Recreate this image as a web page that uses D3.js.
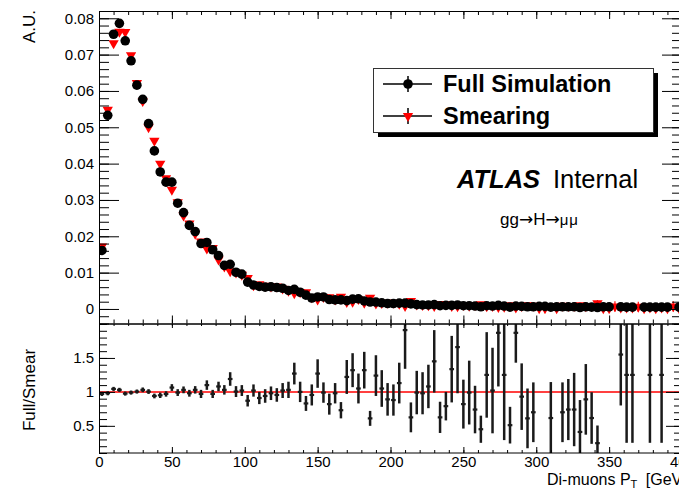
<!DOCTYPE html>
<html>
<head>
<meta charset="utf-8">
<script src="https://cdn.jsdelivr.net/npm/d3@7"></script>
<style>
    body { margin: 0; background: #fff; }
    #chart { width: 679px; height: 490px; overflow: hidden; }
    text { font-family: "Liberation Sans", Arial, Helvetica, sans-serif; fill: #000; }
</style>
</head>
<body>
<div id="chart"></div>
<script>
// di-muon pT histogram, 100 bins of 4 GeV from 0 to 400
const binWidth = 4;
const binLow = d3.range(0, 400, binWidth);

// normalised yields (A.U.), null = empty bin
const fullSim = [
    0.0161, 0.0533, 0.0756, 0.0786, 0.0738, 0.0683, 0.0616, 0.0577, 0.0510, 0.0435,
    0.0377, 0.0349, 0.0349, 0.0291, 0.0265, 0.0230, 0.0213, 0.0180, 0.0183, 0.0163,
    0.0147, 0.0120, 0.0123, 0.0101, 0.0096, 0.0074, 0.0066, 0.0062, 0.0060, 0.0061,
    0.0059, 0.0057, 0.0051, 0.0054, 0.0046, 0.0038, 0.0030, 0.0033, 0.0033, 0.0026,
    0.0025, 0.0025, 0.0023, 0.0027, 0.0028, 0.0022, 0.0019, 0.0019, 0.0017, 0.0015,
    0.0015, 0.0016, 0.0016, 0.0014, 0.0012, 0.0011, 0.0011, 0.0012, 0.0009, 0.0010,
    0.0010, 0.0011, 0.0009, 0.0009, 0.0008, 0.0006, 0.0009, 0.0008, 0.0010, 0.0008,
    0.0005, 0.0008, 0.0007, 0.0006, 0.0006, 0.0007, 0.0007, 0.0005, 0.0006, 0.0006,
    0.0006, 0.0006, 0.0004, 0.0006, 0.0005, 0.0004, 0.0006, 0.0006, null,   0.0006,
    0.0005, 0.0005, null,   0.0005, 0.0005, 0.0005, 0.0005, 0.0005, null,   0.0005
];
const smearing = [
    0.0172, 0.0548, 0.0731, 0.0763, 0.0762, 0.0698, 0.0622, 0.0572, 0.0500, 0.0463,
    0.0400, 0.0360, 0.0328, 0.0294, 0.0257, 0.0235, 0.0207, 0.0186, 0.0166, 0.0168,
    0.0136, 0.0117, 0.0104, 0.0100, 0.0094, 0.0085, 0.0065, 0.0068, 0.0064, 0.0062,
    0.0062, 0.0056, 0.0050, 0.0043, 0.0046, 0.0046, 0.0032, 0.0026, 0.0033, 0.0032,
    0.0026, 0.0034, 0.0019, 0.0020, 0.0027, 0.0017, 0.0031, 0.0015, 0.0016, 0.0017,
    0.0017, 0.0014, 0.0008, 0.0022, 0.0012, 0.0011, 0.0010, 0.0008, 0.0014, 0.0013,
    0.0008, 0.0007, 0.0011, 0.0009, 0.0011, 0.0013, 0.0007, 0.0008, 0.0005, 0.0006,
    0.0010, 0.0004, 0.0008, 0.0010, 0.0009, 0.0002, 0.0002, 0.0008, 0.0002, 0.0009,
    0.0008, 0.0008, 0.0010, 0.0007, 0.0008, 0.0016, 0.0002, 0.0002, 0.0007, 0.0004,
    0.0004, 0.0004, 0.0006, 0.0002, 0.0004, 0.0002, 0.0004, 0.0002, 0.0007, 0.0002
];
const fullErr = [
    0.0006, 0.0006, 0.0006, 0.0006, 0.0006, 0.0006, 0.0006, 0.0006, 0.0006, 0.0005,
    0.0005, 0.0005, 0.0005, 0.0005, 0.0005, 0.0004, 0.0004, 0.0004, 0.0004, 0.0004,
    0.0004, 0.0004, 0.0004, 0.0003, 0.0003, 0.0003, 0.0003, 0.0003, 0.0003, 0.0003,
    0.0003, 0.0003, 0.0003, 0.0003, 0.0003, 0.0003, 0.0003, 0.0003, 0.0003, 0.0003,
    0.0003, 0.0003, 0.0003, 0.0003, 0.0003, 0.0003, 0.0003, 0.0003, 0.0003, 0.0003,
    0.0003, 0.0003, 0.0003, 0.0003, 0.0003, 0.0003, 0.0003, 0.0003, 0.0003, 0.0003,
    0.0003, 0.0003, 0.0003, 0.0003, 0.0003, 0.0003, 0.0003, 0.0003, 0.0003, 0.0003,
    0.0003, 0.0003, 0.0003, 0.0003, 0.0003, 0.0003, 0.0003, 0.0003, 0.0003, 0.0003,
    0.0003, 0.0003, 0.0003, 0.0003, 0.0003, 0.0003, 0.0003, 0.0003, 0,      0.0004,
    0.0004, 0.0004, 0,      0.0004, 0.0004, 0.0004, 0.0004, 0.0004, 0,      0.0004
];
const smearErr = [
    0.0006, 0.0006, 0.0006, 0.0006, 0.0006, 0.0006, 0.0006, 0.0006, 0.0006, 0.0005,
    0.0005, 0.0005, 0.0005, 0.0005, 0.0005, 0.0004, 0.0004, 0.0004, 0.0004, 0.0004,
    0.0004, 0.0004, 0.0004, 0.0003, 0.0003, 0.0004, 0.0003, 0.0003, 0.0003, 0.0003,
    0.0003, 0.0003, 0.0003, 0.0003, 0.0003, 0.0003, 0.0003, 0.0003, 0.0003, 0.0003,
    0.0003, 0.0004, 0.0003, 0.0003, 0.0004, 0.0003, 0.0005, 0.0003, 0.0003, 0.0003,
    0.0003, 0.0003, 0.0003, 0.0005, 0.0004, 0.0004, 0.0004, 0.0004, 0.0006, 0.0005,
    0.0004, 0.0004, 0.0005, 0.0004, 0.0005, 0.0006, 0.0004, 0.0004, 0.0004, 0.0004,
    0.0005, 0.0003, 0.0005, 0.0006, 0.0005, 0.0003, 0.0003, 0.0005, 0.0003, 0.0005,
    0.0005, 0.0005, 0.0006, 0.0005, 0.0005, 0.0009, 0.0003, 0.0003, 0.0014, 0.0004,
    0.0004, 0.0004, 0.0014, 0.0003, 0.0004, 0.0003, 0.0004, 0.0003, 0.0014, 0.0003
];

// Full/Smear ratio as drawn in the lower pad (null = outside range / undefined)
const ratio = [
    0.97, 0.98, 1.044, 1.03, 0.975, 0.99, 1.005, 1.03, 1.005, 0.94,
    0.95, 0.97, 1.064, 0.99, 1.03, 0.98, 1.03, 0.97, 1.10, 0.97,
    1.08, 1.03, 1.19, 1.005, 1.02, 0.87, 1.02, 0.91, 0.94, 0.98,
    0.955, 1.02, 1.03, 1.27, 1.00, 0.83, 0.955, 1.27, 0.99, 0.82,
    0.98, 0.73, 1.22, 1.32, 1.05, 1.32, 0.61, 1.24, 1.05, 0.89,
    0.88, 1.13, 1.91, 0.625, 0.99, 0.98, 1.08, 1.45, 0.625, 0.79,
    1.335, 1.66, 0.82, 0.99, 0.74, 0.45, 1.25, 1.02, 1.87, 1.25,
    0.51, 1.87, 0.93, 0.61, 0.70, null, null, 0.615, null, 0.70,
    0.74, 0.74, 0.41, 0.89, 0.615, 0.245, null, null, null, 1.55,
    1.25, 1.25, null, null, 1.25, null, 1.25, null, null, null
];
const ratioErr = [
    0.03, 0.03, 0.03, 0.03, 0.03, 0.03, 0.03, 0.035, 0.035, 0.035,
    0.04, 0.04, 0.05, 0.05, 0.05, 0.05, 0.055, 0.06, 0.07, 0.06,
    0.07, 0.07, 0.10, 0.08, 0.08, 0.085, 0.09, 0.09, 0.10, 0.10,
    0.10, 0.11, 0.12, 0.16, 0.15, 0.11, 0.155, 0.21, 0.15, 0.155,
    0.15, 0.12, 0.25, 0.25, 0.22, 0.27, 0.11, 0.30, 0.27, 0.24,
    0.23, 0.30, 0.57, 0.22, 0.32, 0.31, 0.32, 0.46, 0.23, 0.21,
    0.49, 0.68, 0.36, 0.47, 0.35, 0.20, 0.63, 0.63, 0.79, 0.96,
    0.27, 0.44, 0.49, 0.44, 0.44, 0, 0, 0.53, 0, 0.44,
    0.45, 0.54, 0.47, 0.52, 0.38, 0.26, 0, 0, 0, 0.75,
    1.0, 1.0, 0, 0, 1.0, 0, 1.0, 0, 0, 0
];

// tick labels
const xTicks = [0, 50, 100, 150, 200, 250, 300, 350, 400];
const yTicksTop = [0, 0.01, 0.02, 0.03, 0.04, 0.05, 0.06, 0.07, 0.08];
const yTicksRatio = [0.5, 1, 1.5];

class RatioPlot {
    constructor(parentElement) {
        this.parentElement = parentElement;
        this.initVis();
    }

    initVis() {
        let vis = this;

        vis.width = 679;
        vis.height = 490;
        vis.frame = {left: 99, right: 682, top: 11, split: 323.5, bottom: 453};

        vis.svg = d3.select("#" + vis.parentElement).append("svg")
            .attr("width", vis.width)
            .attr("height", vis.height);

        vis.x = d3.scaleLinear().domain([0, 400]).range([vis.frame.left, vis.frame.right]);
        vis.yTop = d3.scaleLinear().domain([-0.004, 0.082]).range([vis.frame.split, vis.frame.top]);
        vis.yRatio = d3.scaleLinear().domain([0.1, 2.0]).range([vis.frame.bottom, vis.frame.split + 0.5]);

        // clip regions for both pads
        let defs = vis.svg.append("defs");
        defs.append("clipPath").attr("id", "clipTop").append("rect")
            .attr("x", vis.frame.left).attr("y", vis.frame.top)
            .attr("width", vis.frame.right - vis.frame.left)
            .attr("height", vis.frame.split - vis.frame.top);
        defs.append("clipPath").attr("id", "clipRatio").append("rect")
            .attr("x", vis.frame.left).attr("y", vis.frame.split + 0.5)
            .attr("width", vis.frame.right - vis.frame.left)
            .attr("height", vis.frame.bottom - vis.frame.split - 0.5);

        vis.wrangleData();
    }

    wrangleData() {
        let vis = this;
        vis.bins = binLow.map((lo, i) => ({
            center: lo + binWidth / 2,
            lo: lo,
            full: fullSim[i], fullErr: fullErr[i],
            smear: smearing[i], smearErr: smearErr[i],
            ratio: ratio[i], ratioErr: ratioErr[i]
        }));
        vis.updateVis();
    }

    drawTicks(g, axis) {
        g.call(axis);
        g.select(".domain").remove();
        g.selectAll(".tick line").attr("stroke", "#000").attr("stroke-width", 1);
        g.selectAll(".tick text")
            .attr("font-family", "Liberation Sans, Arial, sans-serif")
            .attr("font-size", 15)
            .attr("fill", "#000");
    }

    updateVis() {
        let vis = this;
        let f = vis.frame;
        let xMinor = d3.range(0, 401, 10);
        let yMinorTop = d3.range(-2, 42).map(i => i * 0.002);
        let yMinorRatio = d3.range(1, 21).map(i => i * 0.1);
        let fmtTop = d => d === 0 ? "0" : d.toFixed(2);

        // ---------- upper pad ----------
        let top = vis.svg.append("g").attr("class", "top-pad");

        let topData = top.append("g").attr("clip-path", "url(#clipTop)");

        // smearing first so full simulation sits on top
        let smearBins = vis.bins.filter(d => d.smear !== null);
        let fullBins = vis.bins.filter(d => d.full !== null);

        topData.selectAll(".smear-err").data(smearBins).enter()
            .append("line").attr("class", "smear-err")
            .attr("x1", d => vis.x(d.center)).attr("x2", d => vis.x(d.center))
            .attr("y1", d => vis.yTop(d.smear - d.smearErr))
            .attr("y2", d => vis.yTop(d.smear + d.smearErr))
            .attr("stroke", "#ff0000").attr("stroke-width", 1.2);

        topData.selectAll(".smear").data(smearBins).enter()
            .append("path").attr("class", "smear")
            .attr("d", d3.symbol(d3.symbolTriangle, 46))
            .attr("transform", d => `translate(${vis.x(d.center)}, ${vis.yTop(d.smear)}) rotate(180)`)
            .attr("fill", "#ff0000");

        topData.selectAll(".full-err").data(fullBins).enter()
            .append("line").attr("class", "full-err")
            .attr("x1", d => vis.x(d.center)).attr("x2", d => vis.x(d.center))
            .attr("y1", d => vis.yTop(d.full - d.fullErr))
            .attr("y2", d => vis.yTop(d.full + d.fullErr))
            .attr("stroke", "#000").attr("stroke-width", 1.2);

        topData.selectAll(".full").data(fullBins).enter()
            .append("circle").attr("class", "full")
            .attr("cx", d => vis.x(d.center))
            .attr("cy", d => vis.yTop(d.full))
            .attr("r", 4.8)
            .attr("fill", "#000");

        // axes of upper pad (ROOT style: ticks point inward)
        vis.drawTicks(top.append("g").attr("transform", `translate(${f.left},0)`),
            d3.axisLeft(vis.yTop).tickValues(yMinorTop).tickSize(-10).tickFormat(""));
        vis.drawTicks(top.append("g").attr("transform", `translate(${f.left},0)`),
            d3.axisLeft(vis.yTop).tickValues(yTicksTop).tickSize(-20).tickPadding(5).tickFormat(fmtTop));
        vis.drawTicks(top.append("g").attr("transform", `translate(${f.right},0)`),
            d3.axisRight(vis.yTop).tickValues(yMinorTop).tickSize(-10).tickFormat(""));
        vis.drawTicks(top.append("g").attr("transform", `translate(${f.right},0)`),
            d3.axisRight(vis.yTop).tickValues(yTicksTop).tickSize(-20).tickFormat(""));
        vis.drawTicks(top.append("g").attr("transform", `translate(0,${f.top})`),
            d3.axisTop(vis.x).tickValues(xMinor).tickSize(-4).tickFormat(""));
        vis.drawTicks(top.append("g").attr("transform", `translate(0,${f.top})`),
            d3.axisTop(vis.x).tickValues(xTicks).tickSize(-8).tickFormat(""));
        vis.drawTicks(top.append("g").attr("transform", `translate(0,${f.split})`),
            d3.axisBottom(vis.x).tickValues(xMinor).tickSize(-4).tickFormat(""));
        vis.drawTicks(top.append("g").attr("transform", `translate(0,${f.split})`),
            d3.axisBottom(vis.x).tickValues(xTicks).tickSize(-8).tickFormat(""));

        top.append("rect")
            .attr("x", f.left + 0.5).attr("y", f.top + 0.5)
            .attr("width", f.right - f.left).attr("height", f.split - f.top)
            .attr("fill", "none").attr("stroke", "#000").attr("stroke-width", 1);

        top.append("text")
            .attr("transform", `translate(35, 10) rotate(-90)`)
            .attr("text-anchor", "end")
            .attr("font-size", 17)
            .text("A.U.");

        // ---------- lower pad (ratio) ----------
        let low = vis.svg.append("g").attr("class", "ratio-pad");
        let lowData = low.append("g").attr("clip-path", "url(#clipRatio)");

        lowData.append("line")
            .attr("x1", f.left).attr("x2", f.right)
            .attr("y1", vis.yRatio(1)).attr("y2", vis.yRatio(1))
            .attr("stroke", "#ff0000").attr("stroke-width", 1.5);

        let ratioBins = vis.bins.filter(d => d.ratio !== null);
        let pts = lowData.selectAll(".ratio").data(ratioBins).enter()
            .append("g").attr("class", "ratio");
        pts.append("line")
            .attr("x1", d => vis.x(d.center)).attr("x2", d => vis.x(d.center))
            .attr("y1", d => vis.yRatio(d.ratio - d.ratioErr))
            .attr("y2", d => vis.yRatio(d.ratio + d.ratioErr))
            .attr("stroke", "#1a1a1a").attr("stroke-width", 2.5);
        pts.append("line")
            .attr("x1", d => vis.x(d.lo + 0.4)).attr("x2", d => vis.x(d.lo + binWidth - 0.4))
            .attr("y1", d => vis.yRatio(d.ratio)).attr("y2", d => vis.yRatio(d.ratio))
            .attr("stroke", "#1a1a1a").attr("stroke-width", 2.2);

        vis.drawTicks(low.append("g").attr("transform", `translate(${f.left},0)`),
            d3.axisLeft(vis.yRatio).tickValues(yMinorRatio).tickSize(-8).tickFormat(""));
        vis.drawTicks(low.append("g").attr("transform", `translate(${f.left},0)`),
            d3.axisLeft(vis.yRatio).tickValues(yTicksRatio).tickSize(-16).tickPadding(5).tickFormat(d => String(d)));
        vis.drawTicks(low.append("g").attr("transform", `translate(${f.right},0)`),
            d3.axisRight(vis.yRatio).tickValues(yMinorRatio).tickSize(-8).tickFormat(""));
        vis.drawTicks(low.append("g").attr("transform", `translate(${f.right},0)`),
            d3.axisRight(vis.yRatio).tickValues(yTicksRatio).tickSize(-16).tickFormat(""));
        vis.drawTicks(low.append("g").attr("transform", `translate(0,${f.split + 0.5})`),
            d3.axisTop(vis.x).tickValues(xMinor).tickSize(-2).tickFormat(""));
        vis.drawTicks(low.append("g").attr("transform", `translate(0,${f.split + 0.5})`),
            d3.axisTop(vis.x).tickValues(xTicks).tickSize(-4).tickFormat(""));
        vis.drawTicks(low.append("g").attr("transform", `translate(0,${f.bottom})`),
            d3.axisBottom(vis.x).tickValues(xMinor).tickSize(-3).tickFormat(""));
        vis.drawTicks(low.append("g").attr("transform", `translate(0,${f.bottom})`),
            d3.axisBottom(vis.x).tickValues(xTicks).tickSize(-6).tickPadding(3).tickFormat(d => String(d)));

        low.append("rect")
            .attr("x", f.left + 0.5).attr("y", f.split + 0.5)
            .attr("width", f.right - f.left).attr("height", f.bottom - f.split - 0.5)
            .attr("fill", "none").attr("stroke", "#000").attr("stroke-width", 1);

        low.append("text")
            .attr("transform", `translate(35, 390) rotate(-90)`)
            .attr("text-anchor", "middle")
            .attr("font-size", 17)
            .text("Full/Smear");

        let xTitle = low.append("text")
            .attr("x", 547).attr("y", 485)
            .attr("font-size", 16);
        xTitle.append("tspan").text("Di-muons P");
        xTitle.append("tspan").attr("font-size", 11).attr("dy", 3).text("T");
        xTitle.append("tspan").attr("dy", -3).attr("dx", 4).text(" [GeV]");

        // ---------- legend + labels ----------
        let leg = vis.svg.append("g").attr("class", "legend");
        leg.append("rect").attr("x", 378).attr("y", 73).attr("width", 280).attr("height", 64)
            .attr("fill", "#000");
        leg.append("rect").attr("x", 373.5).attr("y", 68.5).attr("width", 280).attr("height", 64)
            .attr("fill", "#fff").attr("stroke", "#333").attr("stroke-width", 1);

        let entries = [
            {label: "Full Simulation", y: 84, color: "#000", marker: "circle"},
            {label: "Smearing", y: 116, color: "#ff0000", marker: "triangle"}
        ];
        entries.forEach(function (e) {
            leg.append("line").attr("x1", 383).attr("x2", 432).attr("y1", e.y).attr("y2", e.y)
                .attr("stroke", "#000").attr("stroke-width", 1.5);
            leg.append("line").attr("x1", 408).attr("x2", 408).attr("y1", e.y - 8).attr("y2", e.y + 8)
                .attr("stroke", "#000").attr("stroke-width", 1.5);
            if (e.marker === "circle") {
                leg.append("circle").attr("cx", 408).attr("cy", e.y).attr("r", 4.8).attr("fill", e.color);
            } else {
                leg.append("path").attr("d", d3.symbol(d3.symbolTriangle, 46))
                    .attr("transform", `translate(408, ${e.y}) rotate(180)`)
                    .attr("fill", e.color);
            }
            leg.append("text").attr("x", 443).attr("y", e.y + 8)
                .attr("font-size", 23.5).attr("font-weight", "bold")
                .text(e.label);
        });

        vis.svg.append("text").attr("x", 457).attr("y", 187.5)
            .attr("font-size", 25.5).attr("font-weight", "bold").attr("font-style", "italic")
            .text("ATLAS");
        vis.svg.append("text").attr("x", 553).attr("y", 187.5)
            .attr("font-size", 25.5)
            .text("Internal");

        let proc = vis.svg.append("text").attr("x", 500).attr("y", 225).attr("font-size", 17);
        proc.append("tspan").text("gg");
        proc.append("tspan").attr("font-family", "DejaVu Sans").attr("font-size", 17).text("→");
        proc.append("tspan").text("H");
        proc.append("tspan").attr("font-family", "DejaVu Sans").attr("font-size", 17).text("→");
        proc.append("tspan").attr("font-size", 15).attr("letter-spacing", 1).text("μμ");
    }
}

new RatioPlot("chart");
</script>
</body>
</html>
